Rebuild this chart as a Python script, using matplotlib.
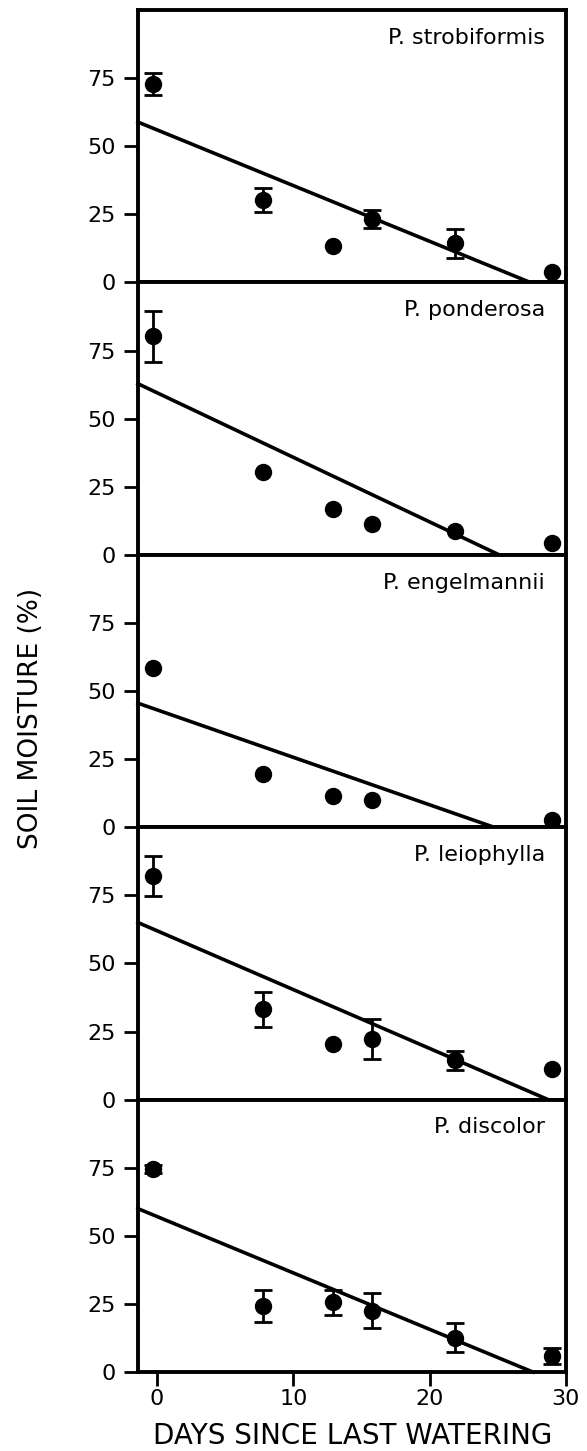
import matplotlib
matplotlib.use('Agg')
import matplotlib.pyplot as plt
import numpy as np

plt.rcParams['font.family'] = ['DejaVu Sans']

# ---- data ----
days = [-0.3, 7.8, 12.9, 15.8, 21.9, 29.0]
engel_days = [-0.3, 7.8, 12.9, 15.8, 29.0]

species = ["P. strobiformis", "P. ponderosa", "P. engelmannii",
           "P. leiophylla", "P. discolor"]

strob_y = [72.8, 30.3, 13.4, 23.3, 14.4, 3.7]
strob_err = [4.0, 4.5, 0.0, 3.3, 5.3, 0.0]

pond_y = [80.2, 30.4, 17.0, 11.5, 8.7, 4.3]
pond_err = [9.4, 0.0, 0.0, 0.0, 0.0, 0.0]

engel_y = [58.3, 19.5, 11.5, 9.9, 2.7]
engel_err = [0.0, 0.0, 0.0, 0.0, 0.0]

leio_y = [82.0, 33.2, 20.6, 22.2, 14.4, 11.4]
leio_err = [7.3, 6.4, 0.0, 7.3, 3.5, 0.0]

disc_y = [74.4, 24.3, 25.6, 22.6, 12.6, 5.9]
disc_err = [1.5, 6.0, 4.5, 6.5, 5.4, 3.0]

# regression lines: intercept at day 0, slope per day
line_intercepts = [56.0, 59.5, 43.1, 62.0, 57.1]
line_slopes = [-2.045, -2.37, -1.743, -2.16, -2.07]

yticks = [0, 25, 50, 75]
xticks = [0, 10, 20, 30]

panel_x = [days, days, engel_days, days, days]
panel_y = [strob_y, pond_y, engel_y, leio_y, disc_y]
panel_e = [strob_err, pond_err, engel_err, leio_err, disc_err]

# ---- figure ----
fig = plt.figure(figsize=(5.87, 14.51), dpi=100)
gs = fig.add_gridspec(5, 1, left=0.235, right=0.964, bottom=0.0544,
                      top=0.9931, hspace=0)
axes = [fig.add_subplot(gs[i, 0]) for i in range(5)]

for i, ax in enumerate(axes):
    x = np.array(panel_x[i])
    y = np.array(panel_y[i])
    e = np.array(panel_e[i])
    ax.set_xlim(-1.4, 30.0)
    ax.set_ylim(0, 100)
    m = e > 0
    if m.any():
        ax.errorbar(x[m], y[m], yerr=e[m], fmt='none', ecolor='black',
                    elinewidth=2.0, capsize=6.5, capthick=2.0, zorder=3)
    ax.plot(x, y, 'o', color='black', markersize=11.5, zorder=4)
    b = line_intercepts[i]
    s = line_slopes[i]
    x0 = ax.get_xlim()[0]
    x1 = -b / s
    lx = np.array([x0, x1])
    ax.plot(lx, b + s * lx, color='black', linewidth=2.6, zorder=2,
            clip_on=False)
    ax.text(0.951, 0.935, species[i], transform=ax.transAxes,
            ha='right', va='top', fontsize=16)
    ax.set_yticks(yticks)
    ax.set_yticklabels([str(t) for t in yticks], fontsize=16)
    for sp in ax.spines.values():
        sp.set_linewidth(2.8)
    ax.tick_params(axis='y', direction='out', length=10, width=2.0, pad=6)
    ax.set_xticks(xticks)
    if i < 4:
        ax.tick_params(axis='x', length=0, labelbottom=False)
    else:
        ax.set_xticklabels([str(t) for t in xticks], fontsize=16)
        ax.tick_params(axis='x', direction='out', length=10, width=2.0, pad=2)

fig.text(0.60, 0.001, "DAYS SINCE LAST WATERING", ha='center',
         va='bottom', fontsize=20)
fig.text(0.053, 0.505, "SOIL MOISTURE (%)", rotation=90, ha='center',
         va='center', fontsize=19)

fig.savefig("out.png", dpi=100)
